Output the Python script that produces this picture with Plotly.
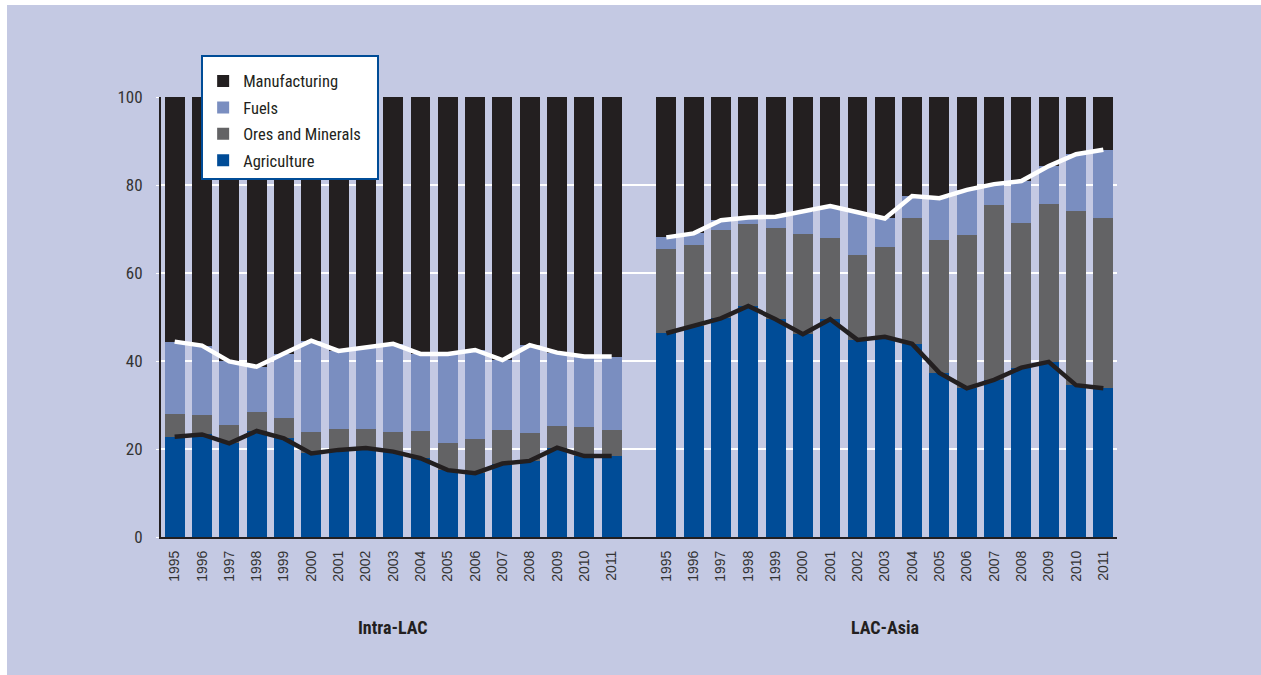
import plotly.graph_objects as go

years = [str(y) for y in range(1995, 2012)]

# Intra-LAC shares (%)
intra_agri = [22.8, 23.3, 21.3, 24.1, 22.4, 19.0, 19.8, 20.2, 19.4, 17.9, 15.2, 14.5, 16.7, 17.3, 20.3, 18.4, 18.4]
intra_ores = [5.2, 4.4, 4.2, 4.3, 4.7, 4.9, 4.7, 4.3, 4.5, 6.2, 6.2, 7.8, 7.6, 6.3, 4.9, 6.6, 5.9]
intra_fuels = [16.4, 15.8, 14.4, 10.3, 14.6, 20.7, 17.8, 18.6, 20.0, 17.5, 20.2, 20.2, 15.9, 20.0, 16.7, 16.0, 16.7]

# LAC-Asia shares (%)
asia_agri = [46.3, 48.0, 49.7, 52.5, 49.5, 46.1, 49.5, 44.8, 45.5, 43.9, 37.3, 33.8, 35.7, 38.5, 39.8, 34.5, 33.8]
asia_ores = [19.2, 18.4, 20.1, 18.6, 20.7, 22.8, 18.5, 19.3, 20.4, 28.6, 30.2, 34.8, 39.8, 32.9, 35.9, 39.6, 38.7]
asia_fuels = [2.6, 2.6, 2.2, 1.5, 2.6, 5.0, 7.2, 9.7, 6.5, 5.0, 9.5, 10.3, 4.7, 9.5, 8.6, 12.9, 15.5]

groups = ["Intra-LAC", "LAC-Asia"]

n = len(years)
x_intra = list(range(n))
x_asia = [i + n + 1 for i in range(n)]
xs = x_intra + x_asia

def manuf(a, o, f):
    return [round(100 - a[i] - o[i] - f[i], 1) for i in range(len(a))]

agri = intra_agri + asia_agri
ores = intra_ores + asia_ores
fuels = intra_fuels + asia_fuels
manu = manuf(intra_agri, intra_ores, intra_fuels) + manuf(asia_agri, asia_ores, asia_fuels)

pad = "\u00a0\u00a0\u00a0"  # extra room on the right of the legend box

fig = go.Figure()
fig.add_trace(go.Bar(x=xs, y=agri, name="Agriculture", legendgroup="a", legendrank=4,
                     marker_color="#004C97", marker_line_width=0))
fig.add_trace(go.Bar(x=xs, y=ores, name="Ores and Minerals" + pad, legendgroup="b", legendrank=3,
                     marker_color="#636365", marker_line_width=0))
fig.add_trace(go.Bar(x=xs, y=fuels, name="Fuels", legendgroup="c", legendrank=2,
                     marker_color="#7A8EC0", marker_line_width=0))
fig.add_trace(go.Bar(x=xs, y=manu, name="Manufacturing", legendgroup="d", legendrank=1,
                     marker_color="#231F20", marker_line_width=0))

# lines: agriculture top (black), agri+ores+fuels top (white)
line_x = x_intra + [None] + x_asia
agri_line = intra_agri + [None] + asia_agri
top_line = [round(intra_agri[i] + intra_ores[i] + intra_fuels[i], 1) for i in range(n)] + [None] + \
           [round(asia_agri[i] + asia_ores[i] + asia_fuels[i], 1) for i in range(n)]
fig.add_trace(go.Scatter(x=line_x, y=top_line, mode="lines", line=dict(color="white", width=4.5),
                         showlegend=False, hoverinfo="skip"))
fig.add_trace(go.Scatter(x=line_x, y=agri_line, mode="lines", line=dict(color="#231F20", width=4.5),
                         showlegend=False, hoverinfo="skip"))

font_fam = "Liberation Sans Narrow, Roboto Condensed, Arial Narrow, Liberation Sans, sans-serif"

W, H = 1261, 675
L, R, T, B = 161, 144, 97, 138
pw, ph = W - L - R, H - T - B

fig.update_layout(
    width=W, height=H,
    barmode="stack", bargap=0.27,
    paper_bgcolor="#C4C9E3", plot_bgcolor="#C4C9E3",
    margin=dict(l=L, r=R, t=T, b=B),
    font=dict(family=font_fam, color="#333333", size=16),
    legend=dict(x=0.042, y=1.095, xanchor="left", yanchor="top", traceorder="grouped",
                tracegroupgap=2, bgcolor="white", bordercolor="#004C97", borderwidth=2,
                title=dict(text=" ", font=dict(size=5)),
                font=dict(size=16.5, color="#231F20", family=font_fam)),
    xaxis=dict(range=[-0.5, 2 * n + 0.5], tickmode="array", tickvals=xs, ticktext=years + years,
               tickangle=-90, showgrid=False, zeroline=False, showline=True, linecolor="#231F20",
               linewidth=2, ticklabelstandoff=6,
               tickfont=dict(size=14, color="#333333", family="Liberation Sans, Arial, sans-serif")),
    yaxis=dict(range=[0, 100], dtick=20, showgrid=True, gridcolor="white", gridwidth=1.5,
               zeroline=False, showline=True, linecolor="#231F20", linewidth=2,
               ticks="outside", ticklen=3, tickcolor="white", ticklabelstandoff=10,
               tickfont=dict(size=17, color="#333333")),
)

# thin white margin at top and left of the panel
fig.add_shape(type="rect", xref="paper", yref="paper", x0=-L / pw, x1=(7 - L) / pw,
              y0=-B / ph, y1=(H - B) / ph, fillcolor="white", line_width=0, layer="below")
fig.add_shape(type="rect", xref="paper", yref="paper", x0=-L / pw, x1=(W - L) / pw,
              y0=(H - B - 5) / ph, y1=(H - B) / ph, fillcolor="white", line_width=0, layer="below")

for gname, xc in zip(groups, [(n - 1) / 2, n + 1 + (n - 1) / 2]):
    fig.add_annotation(x=xc, y=-0.233, xref="x", yref="paper", text="<b>" + gname + "</b>",
                       showarrow=False, font=dict(size=18, color="#231F20", family=font_fam))

fig.write_html("out.html", config={"displayModeBar": False},
               post_script="document.body.style.margin='0px';document.body.style.overflow='hidden';")
